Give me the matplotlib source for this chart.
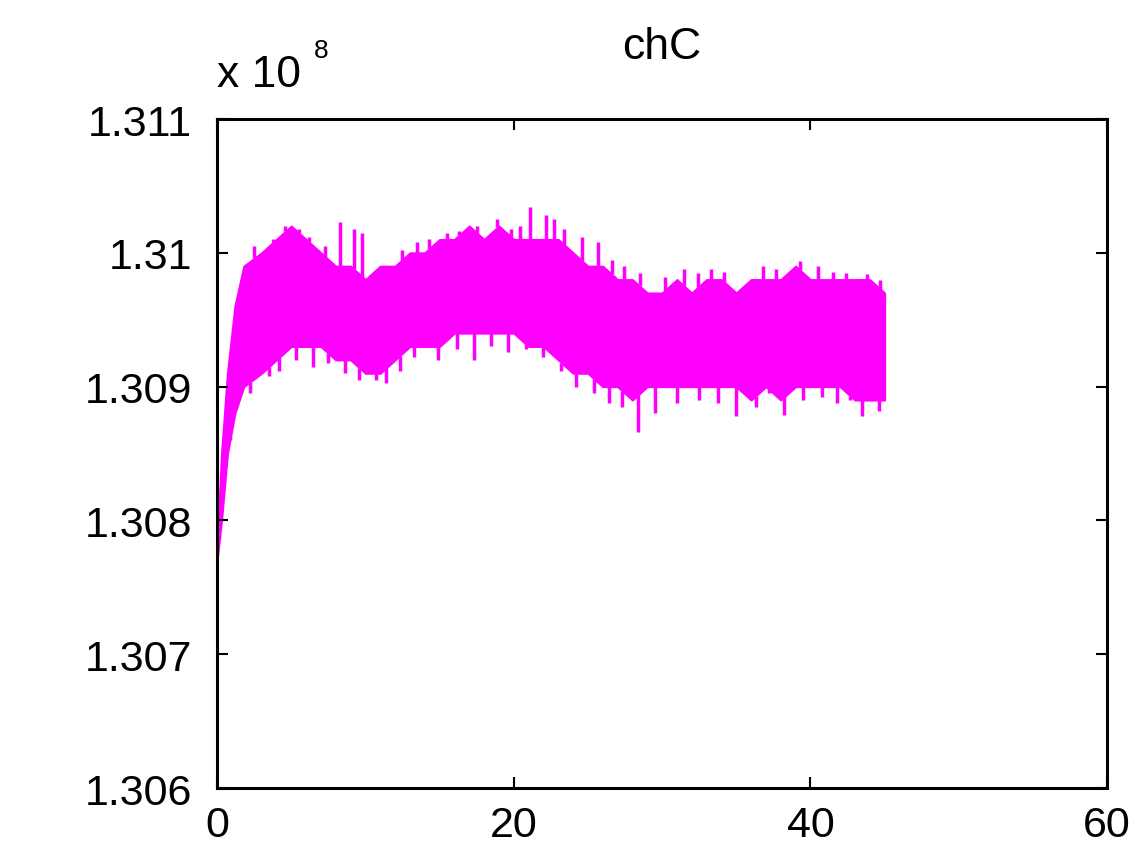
import numpy as np
import matplotlib
matplotlib.use("Agg")
import matplotlib.pyplot as plt

# band of the signal (upper / lower envelope), y in units of 1e8
x_env = [0.0, 0.3, 0.7, 1.2, 1.8, 3.0, 4.0, 5.0, 6.0, 7.0, 8.0, 9.0, 10.0, 11.0,
         12.0, 13.0, 14.0, 15.0, 16.0, 17.0, 18.0, 19.0, 20.0, 21.0, 22.0, 23.0,
         24.0, 25.0, 26.0, 27.0, 28.0, 29.0, 30.0, 31.0, 32.0, 33.0, 34.0, 35.0,
         36.0, 37.0, 38.0, 39.0, 40.0, 41.0, 42.0, 43.0, 44.0, 45.0]
upper = [1.3078, 1.3085, 1.3091, 1.3096, 1.3099, 1.3100, 1.3101, 1.3102, 1.3101,
         1.3100, 1.3099, 1.3099, 1.3098, 1.3099, 1.3099, 1.3100, 1.3100, 1.3101,
         1.3101, 1.3102, 1.3101, 1.3102, 1.3101, 1.3101, 1.3101, 1.3101, 1.3100,
         1.3099, 1.3099, 1.3098, 1.3098, 1.3097, 1.3097, 1.3098, 1.3097, 1.3098,
         1.3098, 1.3097, 1.3098, 1.3098, 1.3098, 1.3099, 1.3098, 1.3098, 1.3098,
         1.3098, 1.3098, 1.3097]
lower = [1.3077, 1.3080, 1.3085, 1.3088, 1.3090, 1.3091, 1.3092, 1.3093, 1.3093,
         1.3093, 1.3092, 1.3092, 1.3091, 1.3091, 1.3092, 1.3093, 1.3093, 1.3093,
         1.3094, 1.3094, 1.3094, 1.3094, 1.3094, 1.3093, 1.3093, 1.3092, 1.3091,
         1.3091, 1.3090, 1.3090, 1.3089, 1.3090, 1.3090, 1.3090, 1.3090, 1.3090,
         1.3090, 1.3090, 1.3089, 1.3090, 1.3089, 1.3090, 1.3090, 1.3090, 1.3090,
         1.3089, 1.3089, 1.3089]

# spikes / teeth sticking out above the band
spike_up_x = [2.5, 3.8, 4.6, 5.5, 6.2, 7.3, 8.3, 9.2, 9.8, 12.5, 13.5, 14.3,
              15.5, 16.3, 17.5, 18.9, 19.8, 20.4, 21.1, 22.2, 22.7, 23.4, 24.6,
              25.7, 26.6, 27.4, 28.5, 30.2, 31.5, 32.4, 33.3, 34.2, 36.8, 37.7,
              39.3, 40.5, 41.5, 42.4, 43.8, 44.7]
spike_up_y = [1.31005, 1.31010, 1.31020, 1.31018, 1.31012, 1.31005, 1.31023,
              1.31018, 1.31015, 1.31002, 1.31008, 1.31010, 1.31015, 1.31016,
              1.31020, 1.31025, 1.31018, 1.31020, 1.31034, 1.31028, 1.31025,
              1.31018, 1.31012, 1.31008, 1.30995, 1.30990, 1.30985, 1.30982,
              1.30988, 1.30985, 1.30988, 1.30986, 1.30990, 1.30988, 1.30994,
              1.30990, 1.30986, 1.30985, 1.30984, 1.30980]
# spikes / teeth hanging below the band
spike_dn_x = [0.9, 1.5, 2.2, 3.5, 4.2, 5.3, 6.5, 7.5, 8.6, 9.6, 10.7, 11.4,
              12.3, 13.3, 14.9, 16.2, 17.3, 18.5, 19.6, 20.8, 22.0, 23.2, 24.2,
              25.4, 26.4, 27.3, 28.4, 29.5, 31.0, 32.5, 33.8, 35.0, 36.3, 37.2,
              38.2, 39.5, 40.8, 41.8, 42.7, 43.5, 44.6]
spike_dn_y = [1.30860, 1.30890, 1.30895, 1.30908, 1.30912, 1.30920, 1.30915,
              1.30918, 1.30910, 1.30905, 1.30905, 1.30903, 1.30912, 1.30922,
              1.30920, 1.30928, 1.30920, 1.30930, 1.30926, 1.30928, 1.30922,
              1.30912, 1.30900, 1.30895, 1.30888, 1.30885, 1.30866, 1.30880,
              1.30888, 1.30890, 1.30888, 1.30878, 1.30885, 1.30895, 1.30879,
              1.30890, 1.30892, 1.30888, 1.30890, 1.30878, 1.30882]

xticks = [0, 20, 40, 60]
yticks = [1.306, 1.307, 1.308, 1.309, 1.310, 1.311]
yticklabels = ["1.306", "1.307", "1.308", "1.309", "1.31", "1.311"]

plt.rcParams['font.family'] = ['Liberation Sans', 'DejaVu Sans']
magenta = (1.0, 0.0, 1.0)

fig = plt.figure(figsize=(11.43, 8.53), dpi=100)
ax = fig.add_axes([0.1899, 0.0750, 0.7787, 0.7843])

ax.fill_between(x_env, lower, upper, color=magenta, lw=1.5, edgecolor=magenta)
mid_up = np.interp(spike_up_x, x_env, upper)
mid_dn = np.interp(spike_dn_x, x_env, lower)
ax.vlines(spike_up_x, mid_up, spike_up_y, color=magenta, lw=2.5)
ax.vlines(spike_dn_x, spike_dn_y, mid_dn, color=magenta, lw=2.5)

ax.set_xlim(0, 60)
ax.set_ylim(1.306, 1.311)
ax.set_xticks(xticks)
ax.set_yticks(yticks)
ax.set_yticklabels(yticklabels)
ax.tick_params(direction='in', length=8, width=1.5, top=True, right=True,
               labelsize=31, pad=18)
ax.tick_params(axis='x', pad=12)
for s in ax.spines.values():
    s.set_linewidth(2.2)

ax.set_title('chC', fontsize=32, pad=44)
# MATLAB style exponent label above the y axis
fig.text(0.19, 0.898, 'x 10', fontsize=32, ha='left', va='baseline')
fig.text(0.2745, 0.932, '8', fontsize=19, ha='left', va='baseline')

fig.savefig('out.png', dpi=100)
